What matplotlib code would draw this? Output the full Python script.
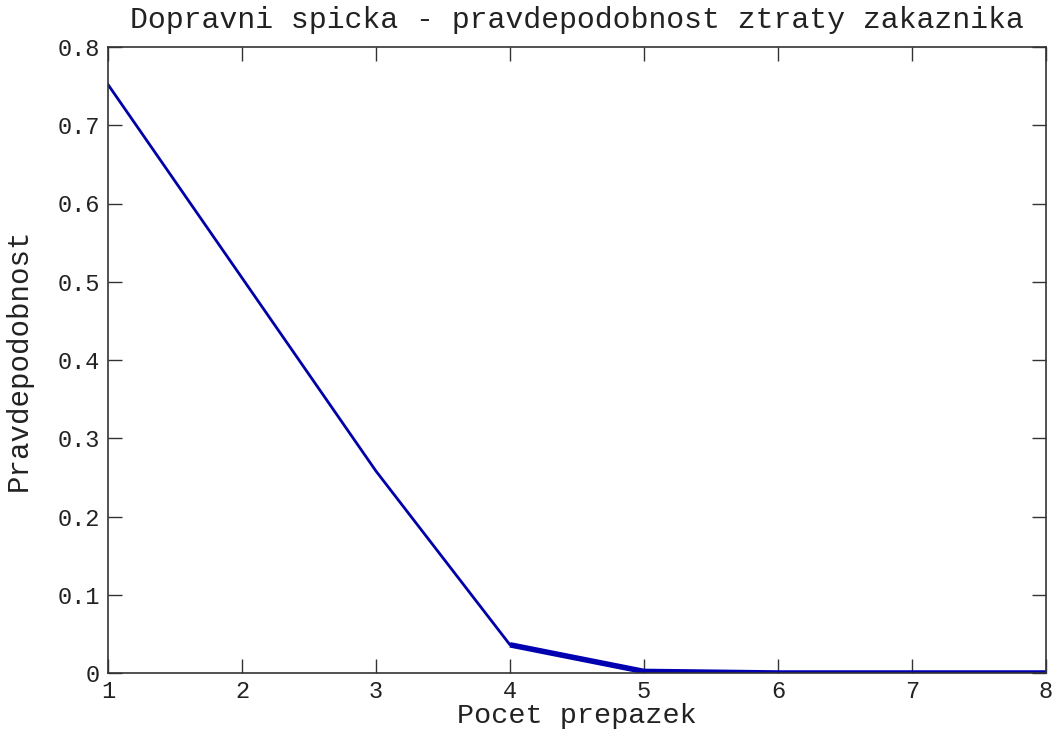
import matplotlib
matplotlib.use("Agg")
import matplotlib.pyplot as plt

pocet = [1, 2, 3, 4, 5, 6, 7, 8]
pravd = [0.752, 0.505, 0.258, 0.036, 0.002, 0.0, 0.0, 0.0]
pocet_b = [4, 5, 6, 7, 8]
pravd_b = [0.036, 0.002, 0.0, 0.0, 0.0]

xticks = [1, 2, 3, 4, 5, 6, 7, 8]
yticks = [0, 0.1, 0.2, 0.3, 0.4, 0.5, 0.6, 0.7, 0.8]
yticklabels = ["0", "0.1", "0.2", "0.3", "0.4", "0.5", "0.6", "0.7", "0.8"]

font = "Liberation Mono"
fig = plt.figure(figsize=(10.57, 7.53), dpi=100)
ax = fig.add_axes([108/1057, 1-673/753, (1046-108)/1057, (673-47)/753])
ax.plot(pocet, pravd, color="#0000a8", lw=2.0)
ax.plot(pocet_b, pravd_b, color="#0000b0", lw=4.0, solid_capstyle="butt")
ax.set_xlim(1, 8)
ax.set_ylim(0, 0.8)
ax.set_xticks(xticks)
ax.set_xticklabels([str(t) for t in xticks])
ax.set_yticks(yticks)
ax.set_yticklabels(yticklabels)
ax.tick_params(direction="in", length=10, width=1, top=True, right=True,
               labelsize=17, pad=6, colors="#333333", labelcolor="#222222")
ax.tick_params(axis="x", pad=5)
for lab in ax.get_xticklabels() + ax.get_yticklabels():
    lab.set_family(font)
for s in ax.spines.values():
    s.set_linewidth(1.2)
    s.set_color("#333333")
ax.set_title("Dopravni spicka - pravdepodobnost ztraty zakaznika",
             family=font, fontsize=21.5, pad=14, color="#222222")
ax.set_xlabel("Pocet prepazek", family=font, fontsize=20.5, labelpad=0,
              color="#222222")
ax.set_ylabel("Pravdepodobnost", family=font, fontsize=21, labelpad=18,
              color="#222222")
fig.savefig("out.png", dpi=100, facecolor="white")
